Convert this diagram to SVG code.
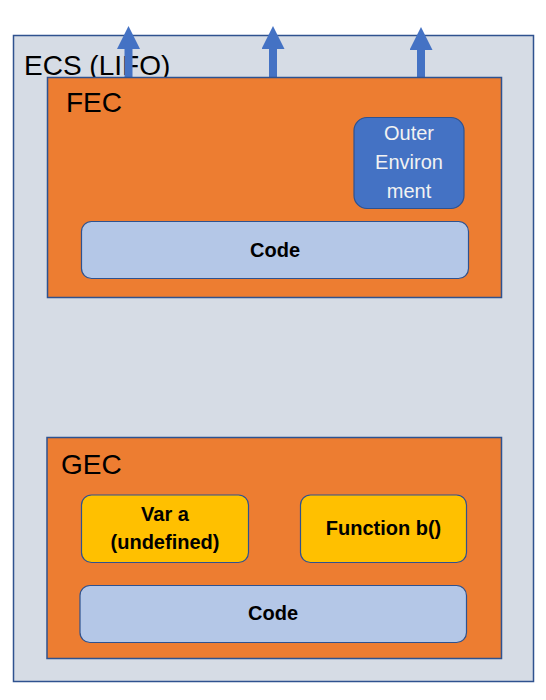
<svg xmlns="http://www.w3.org/2000/svg" width="546" height="700" viewBox="0 0 546 700">
<defs>
<style>
.ecs{fill:#D6DCE5;stroke:#2F528F;stroke-width:1.5}
.ec{fill:#ED7D31;stroke:#2F528F;stroke-width:1.5}
.code{fill:#B4C7E7;stroke:#2F528F;stroke-width:1.2}
.var{fill:#FFC000;stroke:#2F528F;stroke-width:1.2}
.env{fill:#4472C4;stroke:#2F528F;stroke-width:1.2}
.big{font-family:"Liberation Sans",Arial,sans-serif;font-size:28px;fill:#000}
.lbl{font-family:"Liberation Sans",Arial,sans-serif;font-size:20px;font-weight:bold;fill:#000;text-anchor:middle}
.wt{font-family:"Liberation Sans",Arial,sans-serif;font-size:20px;fill:#F2F2F2;text-anchor:middle}
.arr{stroke:#4472C4;stroke-width:8;fill:none}
</style>
<marker id="ah" markerUnits="userSpaceOnUse" markerWidth="23" markerHeight="23" refX="0" refY="11.5" orient="auto">
<path d="M0,0 L23,11.5 L0,23 z" fill="#4472C4"/>
</marker>
</defs>
<g id="ecs">
<rect class="ecs" x="13.5" y="35.5" width="520" height="646"/>
<text class="big" x="24" y="75">ECS (LIFO)</text>
</g>
<g id="connectors">
<line class="arr" x1="128.5" y1="78" x2="128.5" y2="49" marker-end="url(#ah)"/>
<line class="arr" x1="273" y1="78" x2="273" y2="49" marker-end="url(#ah)"/>
<line class="arr" x1="421" y1="78" x2="421" y2="50" marker-end="url(#ah)"/>
</g>
<g id="fec">
<rect class="ec" x="47.5" y="77.5" width="454" height="220"/>
<text class="big" x="66" y="112">FEC</text>
</g>
<g id="outer-env">
<rect class="env" x="354" y="117.5" width="110" height="91" rx="13"/>
<text class="wt" x="409" y="140">Outer</text>
<text class="wt" x="409" y="169">Environ</text>
<text class="wt" x="409" y="198">ment</text>
</g>
<g id="fec-code">
<rect class="code" x="81.5" y="221.5" width="387" height="57" rx="10"/>
<text class="lbl" x="275" y="257">Code</text>
</g>
<g id="gec">
<rect class="ec" x="47" y="437.5" width="454.5" height="221"/>
<text class="big" x="61" y="474">GEC</text>
</g>
<g id="var-a">
<rect class="var" x="81.5" y="495" width="167" height="67.5" rx="10"/>
<text class="lbl" x="165" y="521">Var a</text>
<text class="lbl" x="165" y="549">(undefined)</text>
</g>
<g id="function-b">
<rect class="var" x="300.5" y="495" width="166" height="67.5" rx="10"/>
<text class="lbl" x="383.5" y="535">Function b()</text>
</g>
<g id="gec-code">
<rect class="code" x="80" y="585.5" width="386.5" height="57" rx="10"/>
<text class="lbl" x="273" y="620">Code</text>
</g>
</svg>
